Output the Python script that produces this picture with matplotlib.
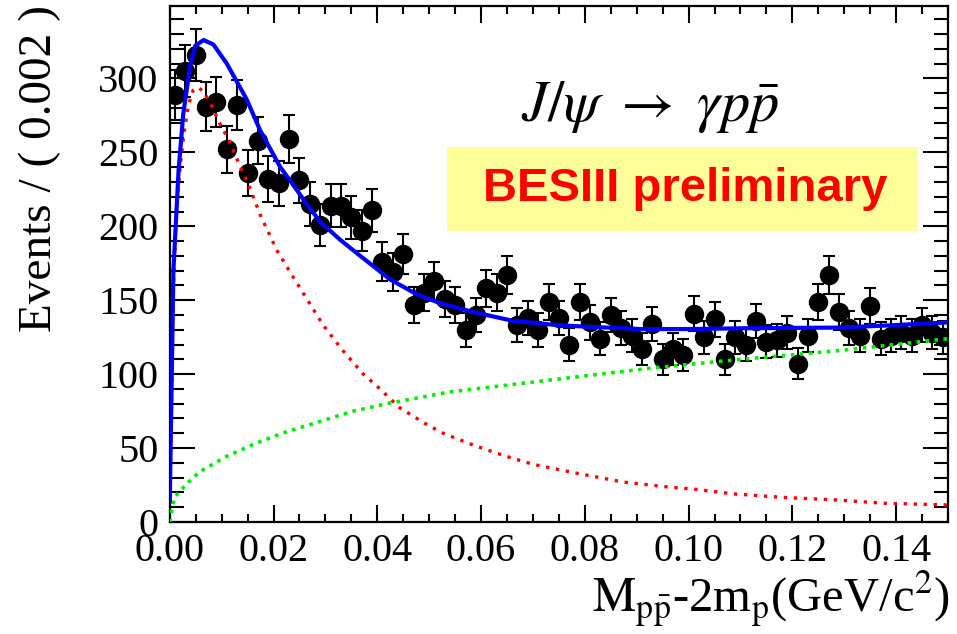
import numpy as np
import matplotlib
matplotlib.use("Agg")
import matplotlib.pyplot as plt
from matplotlib.patches import Rectangle
from matplotlib.ticker import MultipleLocator

plt.rcParams['font.family'] = ['Liberation Serif', 'DejaVu Serif']
plt.rcParams['mathtext.fontset'] = 'stix'

# binned data, bin width 0.002 GeV/c^2
bin_width = 0.002
counts = [289, 305, 316, 281, 284, 252, 282, 236, 258, 232,
          229, 259, 231, 215, 201, 214, 214, 206, 197, 211,
          176, 169, 181, 147, 155, 163, 151, 147, 130, 140,
          158, 155, 167, 133, 138, 130, 149, 138, 120, 149,
          135, 124, 140, 131, 126, 117, 134, 110, 117, 113,
          141, 125, 137, 110, 125, 120, 136, 122, 123, 128,
          107, 126, 149, 167, 142, 131, 126, 146, 124, 126,
          128, 126, 133, 128, 125]

# total fit (blue)
fit_x = [0, 0.0007, 0.0017, 0.0026, 0.0039, 0.0049, 0.0065, 0.0084, 0.011,
         0.0148, 0.0174, 0.0213, 0.0238, 0.0264, 0.029, 0.0328, 0.0367,
         0.0425, 0.0476, 0.0521, 0.0585, 0.0662, 0.0752, 0.081, 0.0907,
         0.1003, 0.11, 0.1292, 0.1388, 0.15]
fit_y = [14, 170, 238, 276, 308, 322, 326, 323, 310, 286, 265, 240, 228,
         215, 203, 191, 180, 164, 154, 148, 142, 136, 133, 132, 130.5,
         130.5, 131, 131.5, 133, 135]

# signal component (red)
sig_x = [0, 0.0007, 0.0013, 0.002, 0.0027, 0.0036, 0.0045, 0.0055, 0.0065,
         0.008, 0.0097, 0.0113, 0.0135, 0.0151, 0.0174, 0.0206, 0.0232,
         0.0264, 0.0296, 0.0331, 0.0373, 0.0399, 0.0444, 0.0495, 0.0527,
         0.0585, 0.0643, 0.07, 0.0784, 0.0874, 0.0964, 0.1016, 0.1086,
         0.1183, 0.128, 0.1375, 0.149, 0.15]
sig_y = [14, 160, 212, 240, 262, 282, 292, 294, 291, 282, 269, 259, 241,
         229, 208, 184, 169, 151, 133, 117, 100, 92, 77, 66, 60, 52, 45,
         39, 33, 27, 23.5, 22, 19, 16.6, 15, 12.7, 11.6, 11.5]

# background component (green)
bkg_x = [0, 0.0005, 0.001, 0.0033, 0.0058, 0.011, 0.0168, 0.0225, 0.029,
         0.0354, 0.0418, 0.0479, 0.054, 0.0637, 0.0733, 0.083, 0.0926,
         0.107, 0.1292, 0.15]
bkg_y = [0, 10, 17, 26, 34, 44.5, 53.5, 61, 68, 75, 80, 84, 88, 92, 96,
         100, 104, 109, 116, 124]

centers = bin_width / 2 + bin_width * np.arange(len(counts))
counts = np.array(counts, dtype=float)

fig = plt.figure(figsize=(9.57, 6.34), dpi=100)
ax = fig.add_axes([0.1774, 0.1767, 0.8132, 0.8138])

ax.errorbar(centers, counts, yerr=np.sqrt(counts), fmt='o', color='black',
            ms=13, capsize=4, elinewidth=1.5, capthick=1.5, zorder=2)
ax.plot(bkg_x, bkg_y, color='#00ee00', lw=2.6, ls=(0, (1, 1.5)), zorder=3)
ax.plot(sig_x, sig_y, color='red', lw=2.4, ls=(0, (1, 2)), zorder=3)
ax.plot(fit_x, fit_y, color='blue', lw=3.0, zorder=4)

ax.set_xlim(0, 0.15)
ax.set_ylim(0, 349)
ax.xaxis.set_major_locator(MultipleLocator(0.02))
ax.xaxis.set_minor_locator(MultipleLocator(0.005))
ax.yaxis.set_major_locator(MultipleLocator(50))
ax.yaxis.set_minor_locator(MultipleLocator(10))
ax.xaxis.set_major_formatter(matplotlib.ticker.FormatStrFormatter('%.2f'))

ax.tick_params(axis='both', which='both', direction='in', labelsize=29,
               width=1.5, pad=8, top=True, right=True)
ax.tick_params(axis='y', which='major', length=18)
ax.tick_params(axis='y', which='minor', length=10)
ax.tick_params(axis='x', which='major', length=12)
ax.tick_params(axis='x', which='minor', length=6)
for sp in ax.spines.values():
    sp.set_linewidth(1.6)

# annotations
ax.add_patch(Rectangle((0.356, 0.564), 0.605, 0.162, transform=ax.transAxes,
                       facecolor='#ffff99', edgecolor='none', zorder=1))
ax.text(0.662, 0.646, 'BESIII preliminary', transform=ax.transAxes,
        ha='center', va='center', color='red', fontsize=34,
        fontweight='bold', family='Liberation Sans', zorder=5)
ax.text(0.618, 0.805, r'$J/\psi\ \rightarrow\ \gamma p\bar{p}$',
        transform=ax.transAxes, ha='center', va='center', fontsize=42,
        zorder=5)

fig.text(950 / 957, 1 - 612 / 634,
         r'$\mathrm{M}_{\mathrm{p\bar{p}}}$-2m$_\mathrm{p}$(GeV/c$^2$)',
         ha='right', va='baseline', fontsize=35)
fig.text(40 / 957, 1 - 5 / 634, 'Events / ( 0.002 )', rotation=90,
         ha='center', va='top', fontsize=34)

fig.savefig('out.png', dpi=100)
